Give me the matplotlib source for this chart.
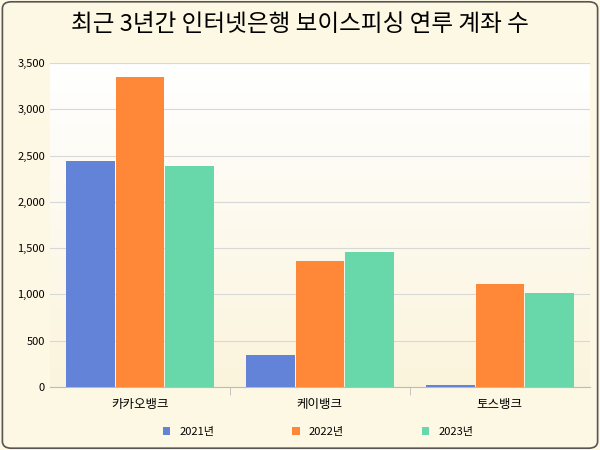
import matplotlib
matplotlib.use("Agg")
import matplotlib.pyplot as plt
import numpy as np
from matplotlib.patches import FancyBboxPatch
from matplotlib.colors import LinearSegmentedColormap

plt.rcParams["font.family"] = ["Noto Sans CJK KR", "Noto Sans CJK JP", "Noto Sans CJK SC", "DejaVu Sans"]

categories = ["카카오뱅크", "케이뱅크", "토스뱅크"]
series_names = ["2021년", "2022년", "2023년"]
v2021 = [2440, 345, 25]
v2022 = [3350, 1365, 1115]
v2023 = [2390, 1460, 1020]
yticks = [0, 500, 1000, 1500, 2000, 2500, 3000, 3500]
colors = ["#6283d8", "#ff8838", "#68d8ab"]

fig = plt.figure(figsize=(6, 4.5), dpi=100)
fig.patch.set_facecolor("#fdf8e4")
fig.patches.append(FancyBboxPatch((0.004, 0.004), 0.992, 0.992, boxstyle="round,pad=0,rounding_size=0.015",
                                  transform=fig.transFigure, fill=False, edgecolor="#555555", lw=1.2))
ax = fig.add_axes([0.083, 0.14, 0.9, 0.72])
grad = np.linspace(0, 1, 256).reshape(-1, 1)
cm = LinearSegmentedColormap.from_list("g", ["#ffffff", "#fbf4dc"])
ax.imshow(grad, aspect="auto", cmap=cm, extent=[-0.5, 2.5, 0, 3500], zorder=0, origin="upper")

x = np.arange(len(categories))
w = 0.275
for i, vals in enumerate([v2021, v2022, v2023]):
    ax.bar(x + (i - 1) * w, vals, w * 0.98, color=colors[i], label=series_names[i], zorder=3)

ax.set_xlim(-0.5, 2.5)
ax.set_ylim(0, 3500)
ax.set_yticks(yticks)
ax.set_yticklabels([f"{t:,}" for t in yticks], fontsize=8)
ax.yaxis.grid(True, color="#d8d8d8", lw=0.8, zorder=1)
ax.set_xticks(x)
ax.set_xticklabels(categories, fontsize=9)
ax.set_xticks([0.5, 1.5], minor=True)
ax.tick_params(axis="x", which="major", length=0, pad=8)
ax.tick_params(axis="x", which="minor", length=6, color="#bbbbbb")
ax.tick_params(axis="y", length=0)
for s in ["top", "right", "left"]:
    ax.spines[s].set_visible(False)
ax.spines["bottom"].set_color("#bbbbbb")

fig.text(0.5, 0.945, "최근 3년간 인터넷은행 보이스피싱 연루 계좌 수", ha="center", va="center", fontsize=17)
fig.legend(loc="center", bbox_to_anchor=(0.53, 0.04), ncol=3, frameon=False, fontsize=8,
           handlelength=0.7, handleheight=0.7, columnspacing=7)
fig.savefig("out.png", dpi=100, facecolor=fig.get_facecolor())
